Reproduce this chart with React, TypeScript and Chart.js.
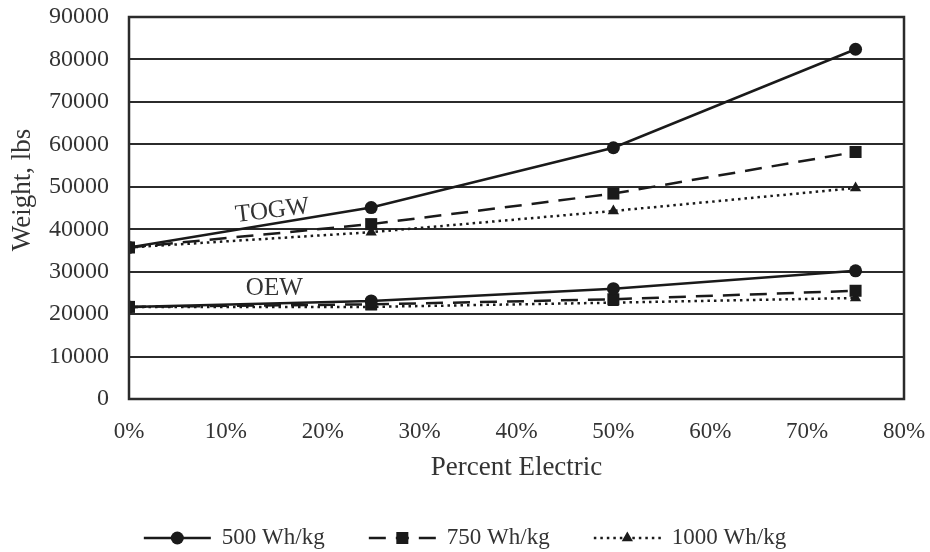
import React, { useEffect, useRef } from "react";
import { Chart, registerables } from "chart.js";

Chart.register(...registerables);

// ---- data ----
const percentElectric = [0, 25, 50, 75];
const seriesNames = ["500 Wh/kg", "750 Wh/kg", "1000 Wh/kg"];
const togw500 = [35700, 45100, 59200, 82400];
const togw750 = [35700, 41200, 48400, 58200];
const togw1000 = [35700, 39300, 44300, 49700];
const oew500 = [21700, 23100, 26000, 30200];
const oew750 = [21700, 22300, 23500, 25500];
const oew1000 = [21700, 21700, 22700, 23800];
const groupLabels = ["TOGW", "OEW"];
const groupLabelAnchors = [
  { x: 14.8, y: 44300, rot: -0.12 },
  { x: 15.0, y: 26150, rot: 0 },
];
const xTitle = "Percent Electric";
const yTitle = "Weight, lbs";

const FONT = "'Liberation Serif', 'Times New Roman', serif";
const INK = "#1a1a1a";
const TEXT = "#333";

const styles = [
  { dash: [] as number[], pointStyle: "circle", radius: 6.5 },
  { dash: [17, 10], pointStyle: "rect", radius: 8.5 },
  { dash: [2.5, 4], pointStyle: "triangle", radius: 6.5 },
];

function drawMarker(ctx: CanvasRenderingContext2D, style: string, x: number, y: number, r: number) {
  ctx.save();
  ctx.setLineDash([]);
  ctx.fillStyle = INK;
  ctx.beginPath();
  if (style === "circle") {
    ctx.arc(x, y, r, 0, Math.PI * 2);
  } else if (style === "rect") {
    const s = Math.SQRT1_2 * r;
    ctx.rect(x - s, y - s, 2 * s, 2 * s);
  } else {
    const h = (r * 3) / 2;
    const side = (r * 3) / Math.sqrt(3);
    ctx.moveTo(x - side / 2, y + h / 3);
    ctx.lineTo(x + side / 2, y + h / 3);
    ctx.lineTo(x, y - (2 * h) / 3);
    ctx.closePath();
  }
  ctx.fill();
  ctx.restore();
}

export default function App() {
  const ref = useRef<HTMLCanvasElement>(null);

  useEffect(() => {
    if (!ref.current) return;
    const mk = (data: number[], i: number) => ({
      label: seriesNames[i],
      data: data.map((y, k) => ({ x: percentElectric[k], y })),
      borderColor: INK,
      backgroundColor: INK,
      borderWidth: 2.5,
      borderDash: styles[i].dash,
      pointStyle: styles[i].pointStyle,
      pointRadius: styles[i].radius,
      pointBackgroundColor: INK,
      pointBorderColor: INK,
      pointBorderWidth: 0,
      fill: false,
      tension: 0,
    });

    const frame = {
      id: "frame",
      afterDatasetsDraw(chart: any) {
        const { ctx, chartArea: a } = chart;
        ctx.save();
        ctx.strokeStyle = "#2b2b2b";
        ctx.lineWidth = 2.5;
        ctx.strokeRect(a.left, a.top, a.right - a.left, a.bottom - a.top);
        ctx.restore();
      },
    };

    const annotations = {
      id: "groupLabels",
      afterDatasetsDraw(chart: any) {
        const { ctx, scales } = chart;
        ctx.save();
        ctx.fillStyle = TEXT;
        ctx.font = `25px ${FONT}`;
        ctx.textAlign = "center";
        ctx.textBaseline = "middle";
        groupLabels.forEach((t, i) => {
          const p = groupLabelAnchors[i];
          const x = scales.x.getPixelForValue(p.x);
          const y = scales.y.getPixelForValue(p.y);
          ctx.save();
          ctx.translate(x, y);
          ctx.rotate(p.rot);
          ctx.fillText(t, 0, 0);
          ctx.restore();
        });
        // y axis title
        ctx.font = `27px ${FONT}`;
        ctx.save();
        ctx.translate(23, 190);
        ctx.rotate(-Math.PI / 2);
        ctx.fillText(yTitle, 0, 0);
        ctx.restore();
        ctx.restore();
      },
    };

    const legend = {
      id: "customLegend",
      afterDraw(chart: any) {
        const { ctx, width } = chart;
        ctx.save();
        ctx.font = `23px ${FONT}`;
        const lineLen = 67;
        const gap = 11;
        const slot = 225;
        const lastW = ctx.measureText(seriesNames[2]).width;
        const total = slot * 2 + lineLen + gap + lastW;
        let x0 = (width - total) / 2;
        const y = 538;
        seriesNames.forEach((name, i) => {
          const st = styles[i];
          const x1 = x0 + lineLen;
          const mid = (x0 + x1) / 2;
          ctx.strokeStyle = INK;
          ctx.lineWidth = 2.5;
          ctx.setLineDash(st.dash);
          ctx.beginPath();
          ctx.moveTo(x0, y);
          ctx.lineTo(mid, y);
          ctx.stroke();
          ctx.beginPath();
          ctx.moveTo(x1, y);
          ctx.lineTo(mid, y);
          ctx.stroke();
          ctx.setLineDash([]);
          drawMarker(ctx, st.pointStyle, mid, y, st.radius);
          ctx.fillStyle = TEXT;
          ctx.textAlign = "left";
          ctx.textBaseline = "middle";
          ctx.fillText(name, x1 + gap, y);
          x0 += slot;
        });
        ctx.restore();
      },
    };

    const chart = new Chart(ref.current, {
      type: "line",
      data: {
        datasets: [
          mk(togw500, 0),
          mk(togw750, 1),
          mk(togw1000, 2),
          mk(oew500, 0),
          mk(oew750, 1),
          mk(oew1000, 2),
        ] as any,
      },
      options: {
        animation: false,
        responsive: true,
        maintainAspectRatio: false,
        layout: { padding: { left: 0, right: 26, top: 17, bottom: 68 } },
        plugins: {
          legend: { display: false },
          tooltip: { enabled: false },
          title: { display: false },
        },
        scales: {
          x: {
            type: "linear",
            min: 0,
            max: 80,
            grid: { display: false, drawTicks: false },
            border: { display: false },
            ticks: {
              stepSize: 10,
              padding: 19,
              color: TEXT,
              font: { family: FONT, size: 23 },
              callback: (v: any) => `${v}%`,
              maxRotation: 0,
            },
            title: {
              display: true,
              text: xTitle,
              color: TEXT,
              font: { family: FONT, size: 27 },
              padding: { top: 0, bottom: 0 },
            },
            afterFit: (s: any) => {
              s.height = 85;
              s.paddingLeft = 0;
              s.paddingRight = 0;
            },
          },
          y: {
            min: 0,
            max: 90000,
            grid: { color: "#2b2b2b", lineWidth: 2, drawTicks: false },
            border: { display: false },
            ticks: {
              stepSize: 10000,
              padding: 20,
              color: TEXT,
              font: { family: FONT, size: 24 },
              callback: (v: any) => `${v}`,
            },
            title: { display: false },
            afterFit: (s: any) => {
              s.width = 129;
              s.paddingTop = 0;
              s.paddingBottom = 0;
            },
          },
        },
      } as any,
      plugins: [frame, annotations, legend],
    });
    return () => chart.destroy();
  }, []);

  return (
    <div style={{ position: "fixed", left: 0, top: 0, width: 930, height: 552, background: "#fff" }}>
      <canvas ref={ref} />
    </div>
  );
}
